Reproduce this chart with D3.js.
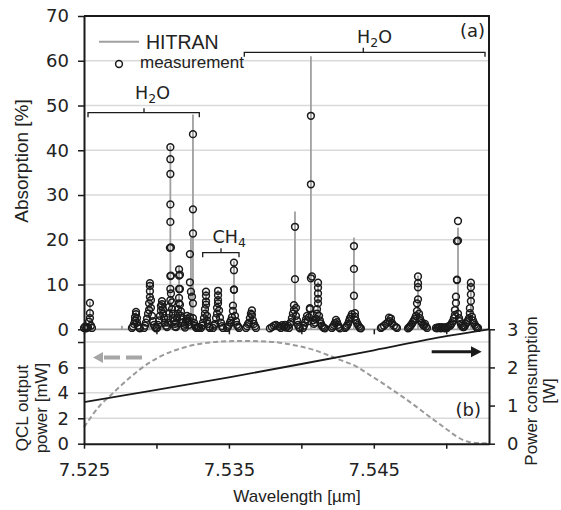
<!DOCTYPE html>
<html>
<head>
<meta charset="utf-8">
<script src="https://cdn.jsdelivr.net/npm/d3@7"></script>
<style>
    body { margin: 0; background: #fff; }
    svg { display: block; }
    .tick text { font-family: "DejaVu Sans", Verdana, sans-serif; font-size: 18px; fill: #222; }
    .lbl { font-family: "Liberation Sans", Arial, sans-serif; fill: #222; }
    .anno { font-family: "DejaVu Sans", Verdana, sans-serif; fill: #222; }
</style>
</head>
<body>
<div id="root"></div>
<script>
"use strict";

// axis ticks
var xTicks = [7.525, 7.530, 7.535, 7.540, 7.545, 7.550];
var xTickLabels = ["7.525", "", "7.535", "", "7.545", ""];
var absTicks = [0, 10, 20, 30, 40, 50, 60, 70];
var qclTicks = [0, 2, 4, 6, 8];
var qclTickLabels = ["0", "2", "4", "6", ""];
var powerTicks = [0, 1, 2, 3];

// HITRAN absorption lines [wavelength um, peak %]
var hitranLines = [
    [7.52541, 6.2], [7.52762, 0.8], [7.52859, 4.2], [7.52955, 10.6], [7.53038, 6.5],
    [7.53096, 41.0], [7.53156, 14.0], [7.53238, 20.5], [7.53252, 48.0], [7.53342, 8.6],
    [7.53425, 8.8], [7.53535, 15.2], [7.53659, 4.4], [7.53956, 26.3], [7.54066, 61.0],
    [7.54115, 10.6], [7.54239, 2.2], [7.54363, 20.5], [7.54611, 2.7], [7.54805, 12.0],
    [7.55081, 22.7], [7.55170, 10.7]
];

// measured absorption [wavelength um, %]
var measured = [
    [7.52500, 0.3], [7.52507, 0.6], [7.52514, 0.2], [7.52521, 0.5], [7.52528, 0.4], [7.52535, 1.7],
    [7.52541, 2.5], [7.52541, 3.6], [7.52541, 5.9], [7.52548, 0.8], [7.52555, 0.3],

    [7.52831, 0.3], [7.52838, 0.6], [7.52845, 1.2], [7.52852, 2.0], [7.52852, 2.7], [7.52859, 3.4],
    [7.52859, 3.9], [7.52866, 2.5], [7.52866, 1.5], [7.52873, 0.8], [7.52880, 0.4], [7.52886, 0.2],

    [7.52914, 0.3], [7.52921, 0.8], [7.52928, 1.5], [7.52935, 2.4], [7.52942, 3.5], [7.52949, 4.3],
    [7.52949, 5.8], [7.52955, 7.2], [7.52955, 8.5], [7.52955, 9.7], [7.52955, 10.3], [7.52962, 6.5],
    [7.52962, 4.8], [7.52969, 3.0], [7.52976, 1.8], [7.52983, 1.0], [7.52990, 0.5], [7.52997, 0.2],

    [7.53004, 0.3], [7.53011, 1.0], [7.53018, 2.0], [7.53024, 3.0], [7.53031, 4.2], [7.53031, 5.2],
    [7.53038, 6.3], [7.53038, 5.6], [7.53045, 4.5], [7.53045, 3.5], [7.53052, 2.5], [7.53059, 1.5],
    [7.53066, 0.8],

    [7.53073, 0.5], [7.53080, 1.5], [7.53080, 2.5], [7.53087, 3.5], [7.53087, 5.0], [7.53096, 6.5],
    [7.53096, 9.0], [7.53096, 11.9], [7.53093, 18.2], [7.53100, 18.3], [7.53096, 24.0], [7.53096, 27.9],
    [7.53096, 34.7], [7.53096, 38.0], [7.53096, 40.7], [7.53100, 12.0], [7.53100, 8.0], [7.53107, 6.0],
    [7.53107, 4.5], [7.53114, 3.5], [7.53114, 2.5], [7.53121, 1.8], [7.53128, 1.2], [7.53128, 0.6],

    [7.53135, 0.5], [7.53135, 1.5], [7.53142, 2.5], [7.53149, 3.5], [7.53149, 4.5], [7.53156, 5.8],
    [7.53156, 7.0], [7.53156, 9.0], [7.53156, 12.0], [7.53156, 13.4], [7.53162, 12.2], [7.53162, 9.0],
    [7.53162, 5.5], [7.53169, 4.0], [7.53169, 3.0], [7.53176, 2.2], [7.53183, 1.5], [7.53190, 0.8],
    [7.53197, 0.4],

    [7.53197, 1.2], [7.53204, 2.0], [7.53211, 3.0], [7.53211, 2.4], [7.53218, 1.6],

    [7.53225, 1.0], [7.53225, 2.0], [7.53231, 2.7], [7.53252, 5.8], [7.53245, 7.3], [7.53238, 8.4],
    [7.53231, 10.5], [7.53231, 16.8], [7.53252, 21.4], [7.53252, 26.8], [7.53252, 43.6], [7.53252, 2.5],
    [7.53259, 1.5], [7.53266, 0.8], [7.53273, 0.4], [7.53280, 0.3], [7.53287, 0.5], [7.53294, 0.3],

    [7.53307, 0.3], [7.53314, 0.8], [7.53321, 1.5], [7.53328, 2.5], [7.53335, 3.5], [7.53335, 4.5],
    [7.53342, 5.5], [7.53342, 6.2], [7.53342, 7.5], [7.53342, 8.4], [7.53349, 3.0], [7.53349, 2.0],
    [7.53356, 1.2], [7.53363, 0.6], [7.53369, 0.3],

    [7.53390, 0.3], [7.53397, 0.8], [7.53404, 1.2], [7.53411, 2.5], [7.53418, 3.5], [7.53418, 4.8],
    [7.53425, 5.8], [7.53425, 6.5], [7.53425, 7.6], [7.53425, 8.6], [7.53432, 4.2], [7.53438, 2.6],
    [7.53445, 1.5], [7.53452, 0.7], [7.53459, 0.3],

    [7.53487, 0.3], [7.53494, 0.6], [7.53501, 1.0], [7.53507, 1.5], [7.53514, 2.0], [7.53521, 2.7],
    [7.53528, 4.1], [7.53528, 5.3], [7.53535, 8.8], [7.53535, 8.9], [7.53535, 13.2], [7.53535, 14.9],
    [7.53542, 3.0], [7.53549, 1.8], [7.53556, 1.0], [7.53563, 0.6], [7.53570, 0.3],

    [7.53618, 0.3], [7.53625, 0.7], [7.53632, 1.2], [7.53639, 1.5], [7.53645, 2.5], [7.53652, 3.5],
    [7.53659, 4.2], [7.53659, 3.2], [7.53666, 2.0], [7.53673, 1.2], [7.53680, 0.7], [7.53687, 0.3],

    [7.53783, 0.2], [7.53797, 0.5], [7.53811, 0.8], [7.53825, 1.0], [7.53839, 0.7], [7.53852, 0.6],
    [7.53859, 0.3], [7.53866, 0.9], [7.53880, 0.6], [7.53887, 1.0], [7.53894, 0.4], [7.53908, 0.8],
    [7.53914, 0.3], [7.53921, 1.2], [7.53928, 1.6], [7.53935, 2.5], [7.53942, 3.5], [7.53949, 4.3],
    [7.53949, 5.4], [7.53956, 11.2], [7.53956, 22.9], [7.53963, 4.8], [7.53963, 3.0], [7.53970, 2.0],
    [7.53977, 1.0], [7.53984, 0.5], [7.53990, 0.2],

    [7.54011, 0.3], [7.54018, 0.8], [7.54025, 1.5], [7.54032, 2.2], [7.54039, 3.0], [7.54046, 1.8],
    [7.54053, 2.7], [7.54059, 4.5], [7.54059, 4.7], [7.54066, 11.4], [7.54073, 11.8], [7.54066, 32.4],
    [7.54066, 47.7], [7.54073, 3.2], [7.54080, 2.0], [7.54087, 1.2],

    [7.54094, 1.5], [7.54101, 2.3], [7.54108, 3.5], [7.54108, 4.5], [7.54115, 5.8], [7.54115, 6.8],
    [7.54115, 8.0], [7.54115, 9.3], [7.54115, 10.4], [7.54122, 3.0], [7.54128, 2.0], [7.54135, 1.3],
    [7.54142, 0.8], [7.54149, 0.5], [7.54156, 0.3], [7.54163, 0.2],

    [7.54211, 0.3], [7.54218, 0.6], [7.54225, 1.0], [7.54232, 1.4], [7.54239, 2.1], [7.54246, 1.6],
    [7.54253, 1.0], [7.54260, 0.5], [7.54266, 0.2],

    [7.54301, 0.3], [7.54308, 0.5], [7.54315, 0.8], [7.54322, 1.2], [7.54329, 1.8], [7.54335, 2.4],
    [7.54342, 2.8], [7.54349, 3.4], [7.54363, 7.5], [7.54363, 13.5], [7.54363, 18.6], [7.54370, 3.6],
    [7.54370, 2.8], [7.54377, 2.0], [7.54384, 1.4], [7.54391, 1.0], [7.54398, 0.6], [7.54404, 0.3],
    [7.54411, 0.2],

    [7.54549, 0.3], [7.54556, 0.5], [7.54570, 0.8], [7.54584, 1.2], [7.54598, 1.6], [7.54605, 2.6],
    [7.54611, 1.8], [7.54618, 2.4], [7.54625, 1.4], [7.54639, 0.8], [7.54653, 0.5], [7.54660, 0.3],

    [7.54736, 0.2], [7.54743, 0.4], [7.54749, 0.6], [7.54756, 0.9], [7.54763, 1.2], [7.54770, 1.6],
    [7.54777, 2.0], [7.54784, 2.4], [7.54791, 3.0], [7.54798, 4.1], [7.54798, 5.8], [7.54805, 6.7],
    [7.54805, 9.4], [7.54805, 10.3], [7.54805, 11.8], [7.54812, 3.5], [7.54818, 2.5], [7.54825, 1.8],
    [7.54832, 1.5], [7.54839, 1.0], [7.54846, 0.8], [7.54853, 1.2], [7.54860, 0.6], [7.54867, 0.3],

    [7.54929, 0.3], [7.54936, 0.2], [7.54943, 0.4], [7.54950, 0.3], [7.54956, 0.5], [7.54963, 0.2],
    [7.54970, 0.4], [7.54977, 0.4], [7.54984, 0.3], [7.54991, 0.2], [7.54998, 0.5], [7.55005, 0.3],
    [7.55012, 0.6], [7.55025, 0.8], [7.55032, 1.0], [7.55039, 1.4], [7.55046, 1.8], [7.55053, 2.5],
    [7.55060, 3.2], [7.55060, 4.3], [7.55067, 5.9], [7.55067, 7.3], [7.55074, 11.0], [7.55074, 11.1],
    [7.55074, 19.7], [7.55081, 19.8], [7.55081, 24.2], [7.55081, 3.5], [7.55088, 2.5], [7.55094, 1.8],
    [7.55101, 1.2], [7.55108, 0.8], [7.55115, 0.5],

    [7.55122, 0.5], [7.55129, 0.8], [7.55136, 1.2], [7.55143, 1.6], [7.55150, 2.0], [7.55157, 2.5],
    [7.55163, 3.6], [7.55163, 4.7], [7.55170, 6.3], [7.55170, 7.8], [7.55170, 9.4], [7.55170, 10.4],
    [7.55177, 2.8], [7.55184, 2.0], [7.55191, 1.4], [7.55198, 1.0], [7.55205, 0.6], [7.55212, 0.4],
    [7.55219, 0.3]
];

// QCL output power [wavelength um, mW]
var qclPower = [
    [7.52500, 1.3], [7.52555, 2.2], [7.52610, 3.0], [7.52679, 3.75], [7.52748, 4.5], [7.52817, 5.2],
    [7.52886, 5.85], [7.52955, 6.4], [7.53024, 6.85], [7.53128, 7.35], [7.53231, 7.7], [7.53335, 7.92],
    [7.53438, 8.03], [7.53576, 8.08], [7.53714, 8.06], [7.53852, 7.95], [7.53970, 7.7], [7.54080, 7.4],
    [7.54177, 7.0], [7.54266, 6.6], [7.54384, 6.05], [7.54473, 5.4], [7.54542, 4.9], [7.54639, 4.15],
    [7.54729, 3.45], [7.54818, 2.7], [7.54887, 2.1], [7.54984, 1.3], [7.55074, 0.55], [7.55115, 0.3],
    [7.55163, 0.12], [7.55232, 0.05], [7.55295, 0.03]
];

// power consumption [wavelength um, W]
var powerUse = [
    [7.525, 1.09], [7.530, 1.41], [7.535, 1.74], [7.540, 2.09], [7.545, 2.45], [7.550, 2.82], [7.55295, 3.0]
];

var W = 561, H = 510;
var leftX = 84, rightX = 489, topY = 16, midY = 329.3, botY = 443.7;

var svg = d3.select("#root").append("svg")
    .attr("width", W)
    .attr("height", H);

var x = d3.scaleLinear().domain([7.525, 7.55295]).range([leftX, rightX]);
var yAbs = d3.scaleLinear().domain([0, 70]).range([midY, topY]);
var yQcl = d3.scaleLinear().domain([0, 9]).range([botY, midY]);
var yPow = d3.scaleLinear().domain([0, 3]).range([botY, midY]);

var gridColor = "#d9d9d9", ink = "#1a1a1a";

// gridlines
svg.append("g").selectAll("line")
    .data(absTicks.filter(function (d) { return d > 0 && d < 70; }))
    .enter().append("line")
    .attr("x1", leftX).attr("x2", rightX)
    .attr("y1", yAbs).attr("y2", yAbs)
    .style("stroke", gridColor).style("stroke-width", 1.5);

svg.append("g").selectAll("line")
    .data(qclTicks.filter(function (d) { return d > 0; }))
    .enter().append("line")
    .attr("x1", leftX).attr("x2", rightX)
    .attr("y1", yQcl).attr("y2", yQcl)
    .style("stroke", gridColor).style("stroke-width", 1.5);

// HITRAN stick spectrum
var stick = [[x.domain()[0], 0]];
hitranLines.slice().sort(function (a, b) { return a[0] - b[0]; }).forEach(function (l) {
    stick.push([l[0], 0], [l[0], l[1]], [l[0], 0]);
});
stick.push([x.domain()[1], 0]);

var absLine = d3.line()
    .x(function (d) { return x(d[0]); })
    .y(function (d) { return yAbs(d[1]); });

svg.append("path")
    .attr("d", absLine(stick))
    .style("fill", "none")
    .style("stroke", "#a0a0a0")
    .style("stroke-width", 1.8);

// measurement points
svg.append("g").selectAll("circle")
    .data(measured)
    .enter().append("circle")
    .attr("cx", function (d) { return x(d[0]); })
    .attr("cy", function (d) { return yAbs(d[1]); })
    .attr("r", 3.4)
    .style("fill", "none")
    .style("stroke", ink)
    .style("stroke-width", 1.5);

// bottom panel curves
svg.append("path")
    .attr("d", d3.line()
        .curve(d3.curveMonotoneX)
        .x(function (d) { return x(d[0]); })
        .y(function (d) { return yQcl(d[1]); })(qclPower))
    .style("fill", "none")
    .style("stroke", "#9a9a9a")
    .style("stroke-width", 2)
    .style("stroke-dasharray", "5,3");

svg.append("path")
    .attr("d", d3.line()
        .curve(d3.curveMonotoneX)
        .x(function (d) { return x(d[0]); })
        .y(function (d) { return yPow(d[1]); })(powerUse))
    .style("fill", "none")
    .style("stroke", ink)
    .style("stroke-width", 1.8);

// axes
function styleAxis(g) {
    g.select(".domain").style("stroke", ink).style("stroke-width", 2);
    g.selectAll(".tick line").style("stroke", ink).style("stroke-width", 1.5);
}

svg.append("g")
    .attr("transform", "translate(" + leftX + ",0)")
    .call(d3.axisLeft(yAbs).tickValues(absTicks).tickSize(6).tickPadding(9).tickSizeOuter(0))
    .call(styleAxis);

svg.append("g")
    .attr("transform", "translate(" + leftX + ",0)")
    .call(d3.axisLeft(yQcl).tickValues(qclTicks).tickSize(6).tickPadding(9).tickSizeOuter(0)
        .tickFormat(function (d, i) { return qclTickLabels[i]; }))
    .call(styleAxis);

svg.append("g")
    .attr("transform", "translate(" + rightX + ",0)")
    .call(d3.axisRight(yPow).tickValues(powerTicks).tickSize(6).tickPadding(12).tickSizeOuter(0)
        .tickFormat(d3.format("d")))
    .call(styleAxis);

svg.append("g")
    .attr("transform", "translate(0," + midY + ")")
    .call(d3.axisBottom(x).tickValues(xTicks).tickSize(5).tickSizeOuter(0).tickFormat(""))
    .call(styleAxis)
    .call(function (g) { g.select(".domain").remove(); });

svg.append("g")
    .attr("transform", "translate(0," + botY + ")")
    .call(d3.axisBottom(x).tickValues(xTicks).tickSize(5).tickPadding(15).tickSizeOuter(0)
        .tickFormat(function (d, i) { return xTickLabels[i]; }))
    .call(styleAxis);

// frame of panel (a)
svg.append("path")
    .attr("d", "M" + leftX + "," + topY + "H" + rightX + "V" + midY)
    .style("fill", "none")
    .style("stroke", ink)
    .style("stroke-width", 2);

// axis titles
svg.append("text").attr("class", "lbl")
    .attr("transform", "translate(28,161) rotate(-90)")
    .attr("text-anchor", "middle")
    .style("font-size", "19px")
    .text("Absorption [%]");

svg.append("text").attr("class", "lbl")
    .attr("x", 297).attr("y", 502)
    .attr("text-anchor", "middle")
    .style("font-size", "17px")
    .text("Wavelength [\u00b5m]");

[["QCL output", 28], ["power [mW]", 47]].forEach(function (t) {
    svg.append("text").attr("class", "lbl")
        .attr("transform", "translate(" + t[1] + ",408) rotate(-90)")
        .attr("text-anchor", "middle")
        .style("font-size", "17px")
        .text(t[0]);
});

[["Power consumption", 537], ["[W]", 555]].forEach(function (t) {
    svg.append("text").attr("class", "lbl")
        .attr("transform", "translate(" + t[1] + ",391) rotate(-90)")
        .attr("text-anchor", "middle")
        .style("font-size", "17px")
        .text(t[0]);
});

// legend
svg.append("line")
    .attr("x1", 99).attr("x2", 139).attr("y1", 41.7).attr("y2", 41.7)
    .style("stroke", "#a0a0a0").style("stroke-width", 2);
svg.append("text").attr("class", "lbl")
    .attr("x", 146).attr("y", 49)
    .style("font-size", "19.5px")
    .text("HITRAN");
svg.append("circle")
    .attr("cx", 119).attr("cy", 64).attr("r", 3.4)
    .style("fill", "none").style("stroke", ink).style("stroke-width", 1.5);
svg.append("text").attr("class", "lbl")
    .attr("x", 140).attr("y", 68)
    .style("font-size", "17px")
    .text("measurement");

// brackets with molecule labels
function bracket(x1, x2, y, xc) {
    svg.append("path")
        .attr("d", "M" + x1 + "," + (y + 4.5) + "V" + y + "H" + x2 + "V" + (y + 4.5) +
            "M" + xc + "," + y + "V" + (y - 4.5))
        .style("fill", "none")
        .style("stroke", ink)
        .style("stroke-width", 1.3);
}

function molecule(xs, y, a, n, b) {
    var t = svg.append("text").attr("class", "anno")
        .attr("x", xs).attr("y", y)
        .style("font-size", "17.5px");
    t.append("tspan").text(a);
    t.append("tspan").attr("dy", 4).style("font-size", "12.5px").text(n);
    t.append("tspan").attr("dy", -4).text(b);
}

bracket(88, 199.3, 112.7, 144);
molecule(135, 99, "H", "2", "O");

bracket(244.3, 485, 52.3, 363.3);
molecule(357, 43.3, "H", "2", "O");

bracket(202.7, 239, 252.7, 221);
molecule(212.5, 243.3, "CH", "4", "");

// panel letters
svg.append("text").attr("class", "anno")
    .attr("x", 485).attr("y", 37)
    .attr("text-anchor", "end")
    .style("font-size", "18px")
    .text("(a)");
svg.append("text").attr("class", "anno")
    .attr("x", 481).attr("y", 416)
    .attr("text-anchor", "end")
    .style("font-size", "18px")
    .text("(b)");

// arrows pointing to the matching axis
var ga = yQcl(6.78);
svg.append("path")
    .attr("d", "M93," + ga + "L103," + (ga - 5.5) + "L103," + (ga + 5.5) + "Z")
    .style("fill", "#a6a6a6");
svg.append("path")
    .attr("d", "M104," + ga + "H143")
    .style("stroke", "#a6a6a6")
    .style("stroke-width", 4)
    .style("stroke-dasharray", "16,6");

var ba = yPow(2.41);
svg.append("path")
    .attr("d", "M431.7," + ba + "H472")
    .style("stroke", ink)
    .style("stroke-width", 3);
svg.append("path")
    .attr("d", "M481.7," + ba + "L471," + (ba - 5.5) + "L471," + (ba + 5.5) + "Z")
    .style("fill", ink);
</script>
</body>
</html>
